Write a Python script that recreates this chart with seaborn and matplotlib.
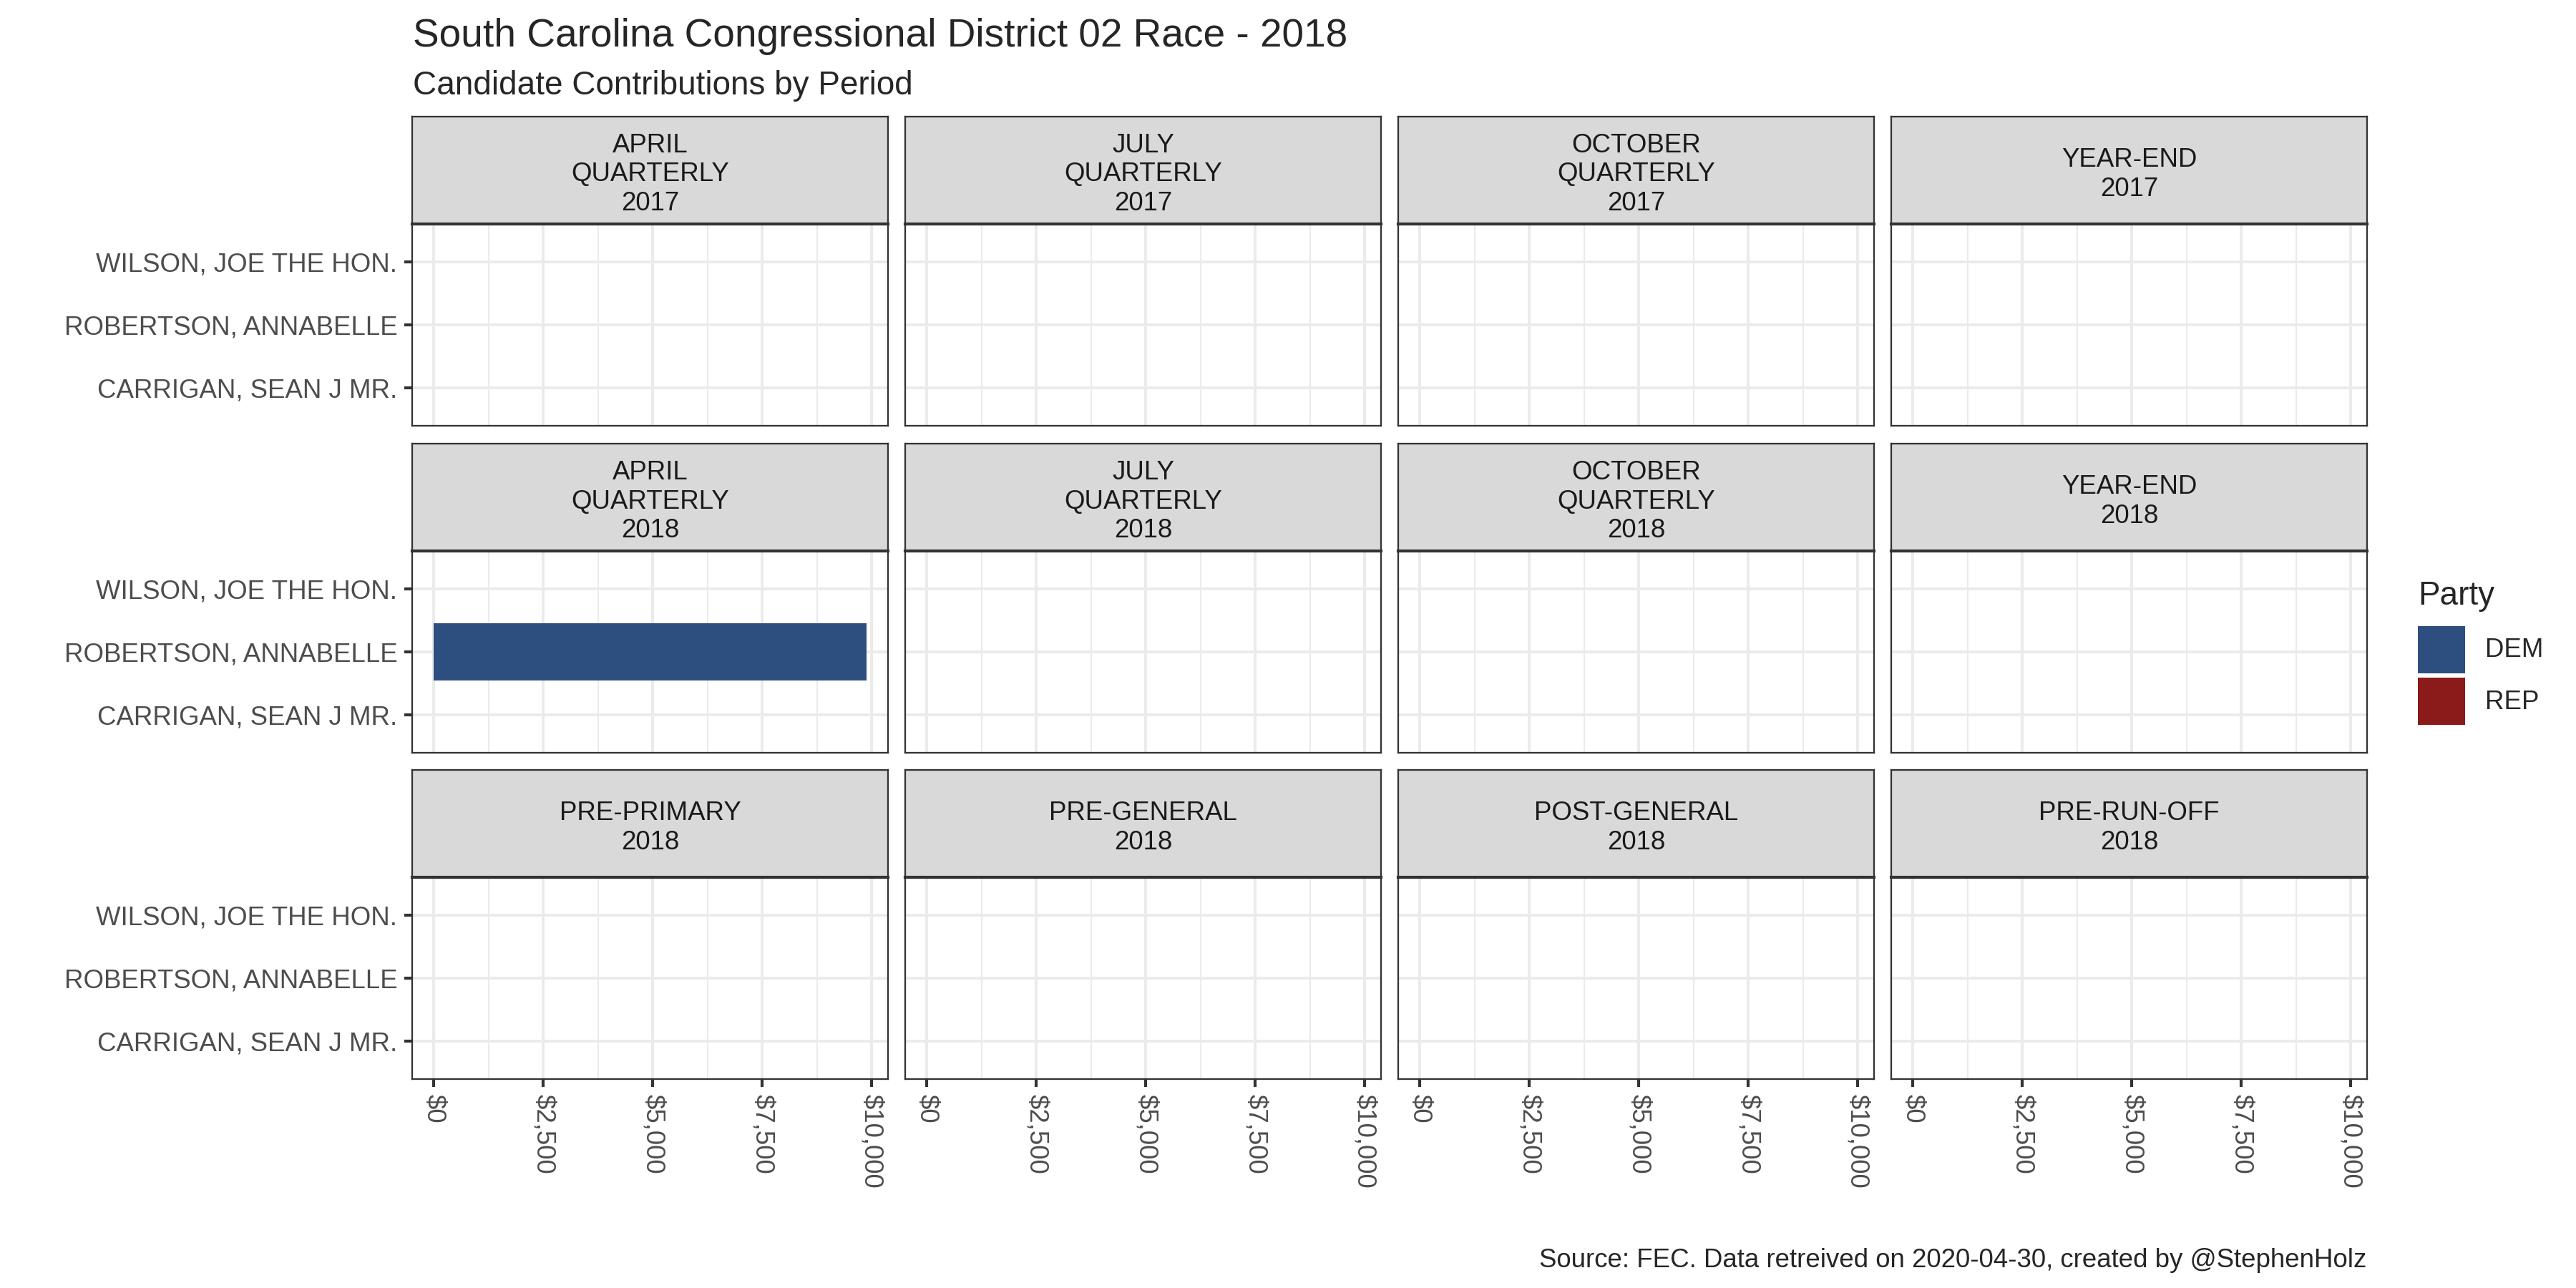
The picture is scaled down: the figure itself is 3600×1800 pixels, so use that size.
"""Candidate contributions by filing period, SC congressional district 02, 2018 race.

Small-multiples bar chart in the look of a ggplot theme_bw facet_wrap.
"""

# %% IMPORTS
from matplotlib import ticker
from matplotlib.patches import Rectangle
import matplotlib.pyplot as plt
import pandas as pd
import seaborn as sns

# %% DATA
periods = [
    "APRIL\nQUARTERLY\n2017", "JULY\nQUARTERLY\n2017", "OCTOBER\nQUARTERLY\n2017", "YEAR-END\n2017",
    "APRIL\nQUARTERLY\n2018", "JULY\nQUARTERLY\n2018", "OCTOBER\nQUARTERLY\n2018", "YEAR-END\n2018",
    "PRE-PRIMARY\n2018", "PRE-GENERAL\n2018", "POST-GENERAL\n2018", "PRE-RUN-OFF\n2018",
]
candidates = ["WILSON, JOE THE HON.", "ROBERTSON, ANNABELLE", "CARRIGAN, SEAN J MR."]
parties = ["REP", "DEM", "REP"]

# only one filing shows any money
contrib_period = ["APRIL\nQUARTERLY\n2018"]
contrib_candidate = ["ROBERTSON, ANNABELLE"]
contrib_amount = [9880]

party_order = ["DEM", "REP"]
party_colors = {"DEM": "#2D4F7F", "REP": "#8B1A1A"}

x_ticks = [0, 2500, 5000, 7500, 10000]

# full grid period x candidate, zero where nothing was filed
grid = pd.DataFrame(
    [(p, c, pa) for p in periods for c, pa in zip(candidates, parties)],
    columns=["period", "candidate", "party"],
)
contrib = pd.DataFrame({"period": contrib_period, "candidate": contrib_candidate, "amount": contrib_amount})
df = grid.merge(contrib, on=["period", "candidate"], how="left").fillna({"amount": 0})

# %% VISUALISE
sns.set_theme(style="white")
plt.rcParams["font.family"] = ["Liberation Sans", "DejaVu Sans"]

W, H = 3600, 1800
fig = plt.figure(figsize=(12, 6), dpi=300)


def frac(x, y, w, h):
    # pixel box (top-left origin) -> figure fraction
    return [x / W, 1 - (y + h) / H, w / W, h / H]


col_left = [576, 1265, 1954, 2643]
row_top = [163, 620, 1076]
panel_w, strip_h, panel_h = 665, 150, 282

amax = df["amount"].max()
xlim = (-0.05 * amax, amax * 1.05)
dark = "#333333"

for i, period in enumerate(periods):
    r, c = divmod(i, 4)
    x0, y0 = col_left[c], row_top[r]

    # strip
    sax = fig.add_axes(frac(x0, y0, panel_w, strip_h))
    sax.set_facecolor("#D9D9D9")
    sax.set_xticks([])
    sax.set_yticks([])
    for s in sax.spines.values():
        s.set_color(dark)
        s.set_linewidth(0.55)
    sax.text(0.5, 0.46, period, ha="center", va="center", fontsize=8.8,
             color="#1A1A1A", linespacing=1.2, transform=sax.transAxes)

    # panel
    ax = fig.add_axes(frac(x0, y0 + strip_h, panel_w, panel_h))
    sub = df[df["period"] == period]
    sns.barplot(
        data=sub, x="amount", y="candidate", hue="party",
        order=candidates, hue_order=party_order, palette=party_colors,
        orient="h", width=0.9, dodge=False, errorbar=None, saturation=1,
        linewidth=0, legend=False, ax=ax,
    )
    ax.set_facecolor("white")
    ax.set_axisbelow(True)
    ax.set_xlim(*xlim)
    ax.set_ylim(len(candidates) - 0.4, -0.6)
    ax.xaxis.set_major_locator(ticker.FixedLocator(x_ticks))
    ax.xaxis.set_minor_locator(ticker.FixedLocator([t + 1250 for t in x_ticks[:-1]]))
    ax.xaxis.set_major_formatter(ticker.FuncFormatter(lambda v, _: f"${v:,.0f}"))
    ax.grid(True, which="major", color="#EBEBEB", linewidth=0.96)
    ax.grid(True, which="minor", axis="x", color="#EBEBEB", linewidth=0.48)
    ax.set_xlabel("")
    ax.set_ylabel("")
    for name, s in ax.spines.items():
        s.set_visible(True)
        s.set_color(dark)
        s.set_linewidth(1.0 if name == "top" else 0.55)

    ax.tick_params(axis="both", which="major", length=2.75, width=1.0, color=dark,
                   labelsize=8.8, labelcolor="#4D4D4D", pad=2.2)
    ax.tick_params(axis="x", which="minor", bottom=False)
    ax.tick_params(axis="x", labelrotation=270)
    if c != 0:
        ax.tick_params(axis="y", left=False, labelleft=False)
    else:
        ax.tick_params(axis="y", left=True, labelleft=True)
    if r != 2:
        ax.tick_params(axis="x", bottom=False, labelbottom=False)
    else:
        ax.tick_params(axis="x", bottom=True, labelbottom=True)

# Legend drawn by hand to sit where ggplot puts it
fig.text(3379 / W, 1 - 845 / H, "Party", fontsize=11, va="baseline", ha="left")
key_top = [875, 947]
for party, top in zip(party_order, key_top):
    fig.add_artist(Rectangle((3379 / W, 1 - (top + 66) / H), 66 / W, 66 / H,
                             transform=fig.transFigure, facecolor=party_colors[party],
                             edgecolor="none"))
    fig.text(3473 / W, 1 - (top + 34) / H, party, fontsize=8.8, va="center", ha="left")

# Titles and caption
fig.text(577 / W, 1 - 65 / H, "South Carolina Congressional District 02 Race - 2018",
         fontsize=13.2, va="baseline", ha="left")
fig.text(577 / W, 1 - 132 / H, "Candidate Contributions by Period",
         fontsize=11, va="baseline", ha="left")
fig.text(3307 / W, 1 - 1771 / H, "Source: FEC. Data retreived on 2020-04-30, created by @StephenHolz",
         fontsize=8.8, va="baseline", ha="right")

fig.savefig("out.png", dpi=300)
